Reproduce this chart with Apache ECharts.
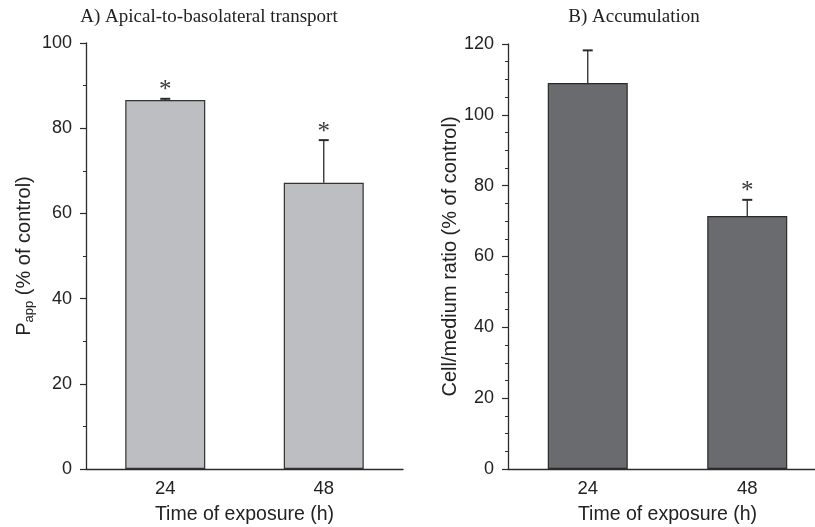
<!DOCTYPE html>
<html>
<head>
<meta charset="utf-8">
<script src="https://cdn.jsdelivr.net/npm/echarts@6/dist/echarts.min.js"></script>
<style>
  html, body { margin: 0; padding: 0; background: #fff; }
  #chart { width: 815px; height: 527px; }
</style>
</head>
<body>
<div id="chart"></div>
<script>
// data
const categories = ['24', '48'];
// A) apical-to-basolateral transport, Papp (% of control)
const transportMean = [86.6, 67.2];
const transportErr = [0.3, 10.0];
const transportSig = [1, 1];
// B) accumulation, cell/medium ratio (% of control)
const accumMean = [109.0, 71.4];
const accumErr = [9.2, 4.6];
const accumSig = [0, 1];

const sans = '"Liberation Sans", Arial, sans-serif';
const serif = '"Liberation Serif", "Times New Roman", serif';
const axisColor = '#2b2b2b';
const textColor = '#222';

function errData(mean, err, sig) {
  return mean.map((m, i) => [i, m, m + err[i], sig[i]]);
}

// upward error bar with cap, plus "*" when significant
function renderErr(params, api) {
  const base = api.coord([api.value(0), api.value(1)]);
  const top = api.coord([api.value(0), api.value(2)]);
  const capHalf = 5;
  const children = [
    {
      type: 'line',
      shape: { x1: base[0], y1: base[1], x2: top[0], y2: top[1] },
      style: { stroke: axisColor, lineWidth: 1.3 }
    },
    {
      type: 'line',
      shape: { x1: top[0] - capHalf, y1: top[1], x2: top[0] + capHalf, y2: top[1] },
      style: { stroke: axisColor, lineWidth: 2 }
    }
  ];
  if (api.value(3)) {
    children.push({
      type: 'text',
      x: top[0],
      y: top[1] - 8,
      style: {
        text: '*',
        fill: '#3a3a3a',
        font: '25px ' + serif,
        align: 'center',
        verticalAlign: 'middle'
      }
    });
  }
  return { type: 'group', children: children };
}

function yAxisCfg(idx, max, minorSplit, name, gap) {
  return {
    type: 'value',
    gridIndex: idx,
    min: 0,
    max: max,
    interval: 20,
    name: name,
    nameLocation: 'middle',
    nameRotate: 90,
    nameGap: gap,
    nameTextStyle: {
      fontFamily: sans,
      fontSize: 20,
      color: textColor,
      rich: {
        p: { fontFamily: sans, fontSize: 20, color: textColor },
        sub: { fontFamily: sans, fontSize: 13, color: textColor, verticalAlign: 'bottom', padding: [0, 0, -2, 0] },
        n: { fontFamily: sans, fontSize: 20, color: textColor }
      }
    },
    axisLine: { show: true, lineStyle: { color: axisColor, width: 1.3 } },
    axisTick: { show: true, length: 6, lineStyle: { color: axisColor, width: 1.2 } },
    minorTick: { show: true, splitNumber: minorSplit, length: 3, lineStyle: { color: axisColor, width: 1 } },
    splitLine: { show: false },
    axisLabel: { fontFamily: sans, fontSize: 18, color: textColor, margin: 14 }
  };
}

function xAxisCfg(idx) {
  return {
    type: 'category',
    gridIndex: idx,
    data: categories,
    name: 'Time of exposure (h)',
    nameLocation: 'middle',
    nameGap: 36,
    nameTextStyle: { fontFamily: sans, fontSize: 19.5, color: textColor },
    axisLine: { show: true, lineStyle: { color: axisColor, width: 1.3 } },
    axisTick: { show: false },
    axisLabel: { fontFamily: sans, fontSize: 18.5, color: textColor, margin: 10 }
  };
}

const chart = echarts.init(document.getElementById('chart'));

chart.setOption({
  backgroundColor: '#fff',
  animation: false,
  graphic: [
    {
      type: 'text', x: 209, y: 17,
      style: { text: 'A) Apical-to-basolateral transport', font: '19px ' + serif, fill: textColor, align: 'center', verticalAlign: 'middle' }
    },
    {
      type: 'text', x: 634, y: 17,
      style: { text: 'B) Accumulation', font: '19px ' + serif, fill: textColor, align: 'center', verticalAlign: 'middle' }
    }
  ],
  grid: [
    { left: 86, top: 43, width: 317, bottom: 58, outerBoundsMode: 'none' },
    // the reference crops this panel's x axis at the right edge
    { left: 508, top: 44, width: 319, bottom: 58, outerBoundsMode: 'none' }
  ],
  xAxis: [xAxisCfg(0), xAxisCfg(1)],
  yAxis: [
    yAxisCfg(0, 100, 2, '{p|P}{sub|app}{n| (% of control)}', 52),
    yAxisCfg(1, 120, 4, 'Cell/medium ratio (% of control)', 42)
  ],
  series: [
    {
      type: 'bar',
      xAxisIndex: 0, yAxisIndex: 0,
      data: transportMean,
      barWidth: 80,
      itemStyle: { color: '#bdbec2', borderColor: '#333', borderWidth: 1.2 }
    },
    {
      type: 'custom',
      xAxisIndex: 0, yAxisIndex: 0,
      data: errData(transportMean, transportErr, transportSig),
      renderItem: renderErr,
      z: 3
    },
    {
      type: 'bar',
      xAxisIndex: 1, yAxisIndex: 1,
      data: accumMean,
      barWidth: 80,
      itemStyle: { color: '#6a6b6f', borderColor: '#2a2a2a', borderWidth: 1.2 }
    },
    {
      type: 'custom',
      xAxisIndex: 1, yAxisIndex: 1,
      data: errData(accumMean, accumErr, accumSig),
      renderItem: renderErr,
      z: 3
    }
  ]
});
</script>
</body>
</html>
